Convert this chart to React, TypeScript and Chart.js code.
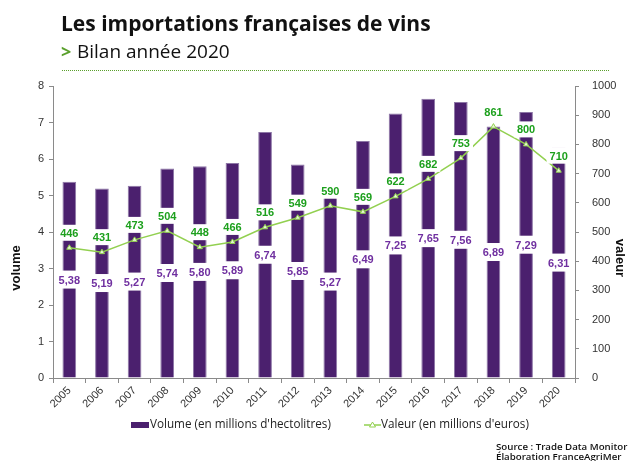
import React, { useEffect, useRef } from "react";
import { Chart, registerables } from "chart.js";

Chart.register(...registerables);

const years = ["2005","2006","2007","2008","2009","2010","2011","2012","2013","2014","2015","2016","2017","2018","2019","2020"];
const volume = [5.38,5.19,5.27,5.74,5.80,5.89,6.74,5.85,5.27,6.49,7.25,7.65,7.56,6.89,7.29,6.31];
const valeur = [446,431,473,504,448,466,516,549,590,569,622,682,753,861,800,710];

const TITLE = "Les importations françaises de vins";
const SUBTITLE = "Bilan année 2020";
const LEGEND_VOL = "Volume (en millions d'hectolitres)";
const LEGEND_VAL = "Valeur (en millions d'euros)";
const SOURCE1 = "Source : Trade Data Monitor";
const SOURCE2 = "Élaboration FranceAgriMer";

const PURPLE = "#4b206e";
const PURPLE_LABEL = "#7030a0";
const GREEN_LINE = "#92d050";
const GREEN_LABEL = "#1da01d";
const AXIS = "#8a8a8a";

const decoPlugin = {
  id: "deco",
  afterDatasetsDraw(chart: any) {
    const ctx = chart.ctx as CanvasRenderingContext2D;
    const barMeta = chart.getDatasetMeta(0);
    const lineMeta = chart.getDatasetMeta(1);
    ctx.save();
    ctx.font = "bold 11px 'Liberation Sans', Arial, sans-serif";
    ctx.textAlign = "center";
    ctx.textBaseline = "middle";
    barMeta.data.forEach((bar: any, i: number) => {
      const txt = volume[i].toFixed(2).replace(".", ",");
      const cy = (bar.y + bar.base) / 2;
      const w = ctx.measureText(txt).width + 8;
      ctx.fillStyle = "#fff";
      ctx.fillRect(bar.x - w / 2, cy - 9, w, 18);
      ctx.fillStyle = PURPLE_LABEL;
      ctx.fillText(txt, bar.x, cy + 1);
    });
    lineMeta.data.forEach((pt: any, i: number) => {
      const txt = String(valeur[i]);
      const cy = pt.y - 15;
      const w = ctx.measureText(txt).width + 6;
      ctx.fillStyle = "#fff";
      ctx.fillRect(pt.x - w / 2, cy - 8, w, 16);
      ctx.fillStyle = GREEN_LABEL;
      ctx.fillText(txt, pt.x, cy + 1);
    });
    ctx.restore();
  },
  afterDraw(chart: any) {
    const ctx = chart.ctx as CanvasRenderingContext2D;
    ctx.save();
    ctx.fillStyle = "#111";
    ctx.textBaseline = "alphabetic";
    ctx.textAlign = "left";
    ctx.font = "bold 21px 'Open Sans', sans-serif";
    ctx.fillText(TITLE, 61, 31);
    ctx.fillStyle = "#5aa02c";
    ctx.font = "bold 18px 'Open Sans', sans-serif";
    ctx.fillText(">", 61, 58);
    ctx.fillStyle = "#111";
    ctx.font = "19px 'Open Sans', sans-serif";
    ctx.fillText(SUBTITLE, 77, 58);
    ctx.strokeStyle = "#5aa02c";
    ctx.lineWidth = 1;
    ctx.setLineDash([1, 1]);
    ctx.beginPath();
    ctx.moveTo(62, 70.5);
    ctx.lineTo(609, 70.5);
    ctx.stroke();
    ctx.setLineDash([]);
    ctx.fillStyle = "#111";
    ctx.font = "bold 13px 'Liberation Sans', Arial, sans-serif";
    ctx.textAlign = "center";
    ctx.textBaseline = "middle";
    ctx.save();
    ctx.translate(16, 268);
    ctx.rotate(-Math.PI / 2);
    ctx.fillText("volume", 0, 0);
    ctx.restore();
    ctx.save();
    ctx.translate(620, 258);
    ctx.rotate(Math.PI / 2);
    ctx.fillText("valeur", 0, 0);
    ctx.restore();
    // legend
    ctx.fillStyle = PURPLE;
    ctx.fillRect(131, 422, 18, 6);
    ctx.fillStyle = "#222";
    ctx.font = "11.7px 'Open Sans', sans-serif";
    ctx.textAlign = "left";
    ctx.textBaseline = "middle";
    ctx.fillText(LEGEND_VOL, 150, 425);
    ctx.strokeStyle = GREEN_LINE;
    ctx.lineWidth = 1.5;
    ctx.beginPath();
    ctx.moveTo(364, 425);
    ctx.lineTo(381, 425);
    ctx.stroke();
    ctx.beginPath();
    ctx.moveTo(372.5, 422);
    ctx.lineTo(375.5, 427);
    ctx.lineTo(369.5, 427);
    ctx.closePath();
    ctx.fillStyle = "#fff";
    ctx.fill();
    ctx.lineWidth = 1;
    ctx.stroke();
    ctx.fillStyle = "#222";
    ctx.fillText(LEGEND_VAL, 381, 425);
    // source
    ctx.fillStyle = "#111";
    ctx.textBaseline = "alphabetic";
    ctx.font = "600 9.7px 'Open Sans', sans-serif";
    ctx.fillText(SOURCE1, 496, 450);
    ctx.fillText(SOURCE2, 496, 460);
    ctx.restore();
  },
};

export default function App() {
  const ref = useRef<HTMLCanvasElement>(null);
  useEffect(() => {
    document.body.style.margin = "0";
    const tickFont = { family: "'Liberation Sans', Arial, sans-serif", size: 11 };
    const chart = new Chart(ref.current!, {
      type: "bar",
      data: {
        labels: years,
        datasets: [
          {
            type: "bar",
            label: LEGEND_VOL,
            data: volume,
            yAxisID: "y",
            backgroundColor: PURPLE,
            borderColor: "#8d76a6",
            borderWidth: { left: 1, right: 1, top: 1, bottom: 0 },
            barPercentage: 0.42,
            categoryPercentage: 1,
            order: 1,
          },
          {
            type: "line",
            label: LEGEND_VAL,
            data: valeur,
            yAxisID: "y1",
            borderColor: GREEN_LINE,
            borderWidth: 1.5,
            pointStyle: "triangle",
            pointRadius: 3,
            pointBackgroundColor: "#e8f5d8",
            pointBorderColor: GREEN_LINE,
            pointBorderWidth: 1,
            tension: 0,
            order: 0,
          },
        ],
      },
      options: {
        responsive: false,
        animation: false,
        layout: { padding: { top: 86, bottom: 43, left: 0, right: 0 } },
        plugins: { legend: { display: false }, tooltip: { enabled: false } },
        scales: {
          x: {
            offset: true,
            grid: { display: true, drawOnChartArea: false, drawTicks: true, tickLength: 5, color: AXIS, offset: true },
            border: { display: true, color: AXIS },
            ticks: { minRotation: 45, maxRotation: 45, font: tickFont, color: "#333", padding: 1, autoSkip: false },
            afterFit: (s: any) => { s.height = 40; },
          },
          y: {
            position: "left",
            min: 0,
            max: 8,
            grid: { drawOnChartArea: false, drawTicks: true, tickLength: 4, color: AXIS },
            border: { display: true, color: AXIS },
            ticks: { stepSize: 1, font: tickFont, color: "#333", padding: 5 },
            afterFit: (s: any) => { s.width = 53; },
          },
          y1: {
            position: "right",
            min: 0,
            max: 1000,
            grid: { drawOnChartArea: false, drawTicks: true, tickLength: 4, color: AXIS },
            border: { display: true, color: AXIS },
            ticks: { stepSize: 100, font: tickFont, color: "#333", padding: 13, callback: (v: any) => String(v) },
            afterFit: (s: any) => { s.width = 55; },
          },
        },
      },
      plugins: [decoPlugin],
    });
    return () => chart.destroy();
  }, []);
  return (
    <div style={{ position: "absolute", left: 0, top: 0, width: 630, height: 461, background: "#fff" }}>
      <canvas ref={ref} width={630} height={461} />
    </div>
  );
}
